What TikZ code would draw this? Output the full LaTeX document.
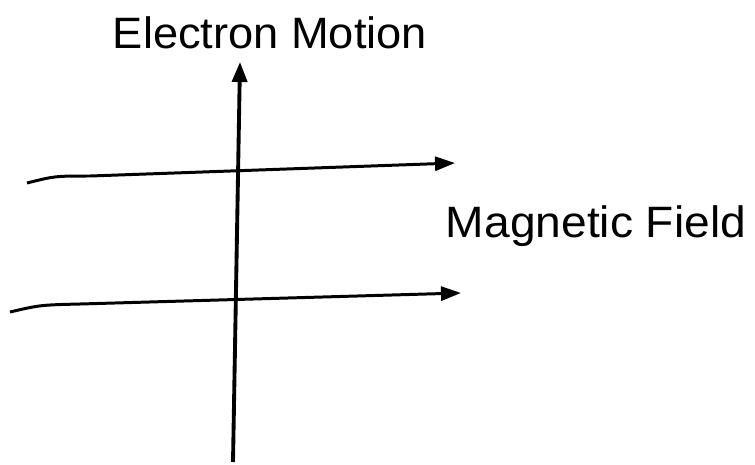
\documentclass[tikz,border=0pt]{standalone}
\usepackage{fontspec}
\setmainfont{Liberation Sans}
\usetikzlibrary{arrows.meta}
\begin{document}
\begin{tikzpicture}[x=.02cm,y=-.02cm,font=\fontsize{25}{30}\selectfont]
\tikzset{fieldline/.style={line width=1.7pt,-{Triangle[length=.4cm,width=.28cm]}},
 motion/.style={line width=2.2pt,-{Triangle[length=.4cm,width=.3cm]}},
 label/.style={xscale=1.03}}
\useasboundingbox (0,0) rectangle (755,464);
\node[label] (motionlabel) at (270,33) {Electron Motion};
\node[label,xscale=1.02] (fieldlabel) at (596,226) {Magnetic Field};
\coordinate (vbot) at (233,462);\coordinate (vtop) at (240,62);
\coordinate (ftopA) at (27,183);\coordinate (ftopB) at (455,163);
\coordinate (fbotA) at (10,312);\coordinate (fbotB) at (461,293);
\draw[motion] (vbot)--(vtop);
\draw[fieldline] (ftopA) .. controls (55,176) .. (90,176) -- (ftopB);
\draw[fieldline] (fbotA) .. controls (40,305) .. (80,304) -- (fbotB);
\end{tikzpicture}
\end{document}
